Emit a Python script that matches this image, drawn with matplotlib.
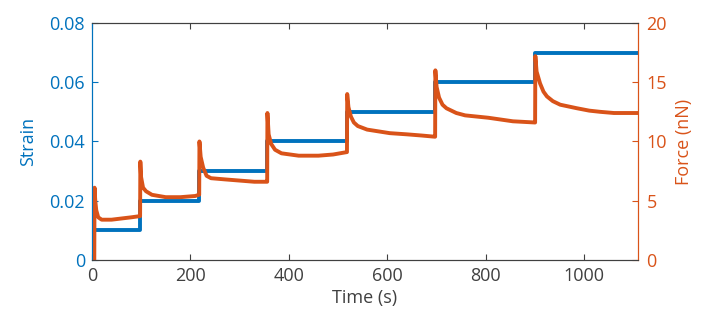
import matplotlib
matplotlib.use('Agg')
import matplotlib.pyplot as plt

plt.rcParams['font.family'] = ['Open Sans', 'DejaVu Sans']

# strain steps (s, strain)
strain_t = [0, 5, 5, 98, 98, 218, 218, 356, 356, 518, 518, 697, 697, 900, 900, 1109]
strain_v = [0, 0, 0.01, 0.01, 0.02, 0.02, 0.03, 0.03, 0.04, 0.04, 0.05, 0.05, 0.06, 0.06, 0.07, 0.07]

# force (s, nN)
force_t = [0, 5, 5.5, 7, 9, 13, 20, 40, 60, 80, 97.5,
           98, 98.5, 100, 104, 110, 122, 150, 180, 210, 217.5,
           218, 218.5, 221, 226, 233, 242, 270, 300, 330, 355.5,
           356, 356.5, 359, 364, 372, 385, 420, 460, 490, 517.5,
           518, 518.5, 521, 526, 532, 540, 559, 605, 640, 670, 696.5,
           697, 697.5, 700, 705, 712, 720, 740, 758, 805, 855, 899.5,
           900, 900.5, 903, 910, 917, 924, 936, 951, 968, 985, 1010, 1032, 1060, 1109]
force_v = [0, 0, 6.1, 5.0, 4.2, 3.6, 3.4, 3.4, 3.5, 3.6, 3.7,
           3.7, 8.3, 7.0, 6.1, 5.8, 5.5, 5.3, 5.3, 5.4, 5.5,
           5.5, 10.0, 8.7, 7.8, 7.1, 6.9, 6.8, 6.7, 6.6, 6.6,
           6.6, 12.4, 10.6, 9.8, 9.3, 9.0, 8.8, 8.8, 8.9, 9.1,
           9.1, 14.0, 12.9, 12.1, 11.6, 11.3, 11.0, 10.7, 10.6, 10.5, 10.4,
           10.4, 16.0, 14.6, 13.7, 13.1, 12.8, 12.4, 12.2, 12.0, 11.7, 11.6,
           11.6, 17.2, 15.9, 14.9, 14.2, 13.8, 13.4, 13.1, 12.95, 12.8, 12.6, 12.5, 12.4, 12.4]

blue = '#0072BD'
orange = '#D95319'
grey = '#404040'

fig = plt.figure(figsize=(7.08, 3.14), dpi=100)
ax = fig.add_axes([0.1297, 0.172, 0.7715, 0.755])
ax2 = ax.twinx()

ax.plot(strain_t, strain_v, color=blue, lw=2.8)
ax2.plot(force_t, force_v, color=orange, lw=2.8, solid_joinstyle='round')

ax.set_xlim(0, 1109)
ax.set_ylim(0, 0.08)
ax2.set_ylim(0, 20)
ax.set_xticks([0, 200, 400, 600, 800, 1000])
ax.set_yticks([0, 0.02, 0.04, 0.06, 0.08])
ax.set_yticklabels(['0', '0.02', '0.04', '0.06', '0.08'])
ax2.set_yticks([0, 5, 10, 15, 20])

ax.set_xlabel('Time (s)', color=grey, fontsize=13, labelpad=3)
ax.set_ylabel('Strain', color=blue, fontsize=13, labelpad=9)
ax2.set_ylabel('Force (nN)', color=orange, fontsize=13, labelpad=6)

ax.tick_params(axis='x', direction='in', top=True, colors=grey, labelsize=13, length=4, pad=5)
ax.tick_params(axis='y', direction='in', colors=blue, labelsize=13, length=4, pad=5)
ax2.tick_params(axis='y', direction='in', colors=orange, labelsize=13, length=4, pad=6)

for a in (ax, ax2):
    a.spines['top'].set_color(grey)
    a.spines['bottom'].set_color(grey)
    a.spines['left'].set_color(blue)
    a.spines['right'].set_color(orange)
    for s in a.spines.values():
        s.set_linewidth(0.8)

fig.savefig('out.png', dpi=100)
